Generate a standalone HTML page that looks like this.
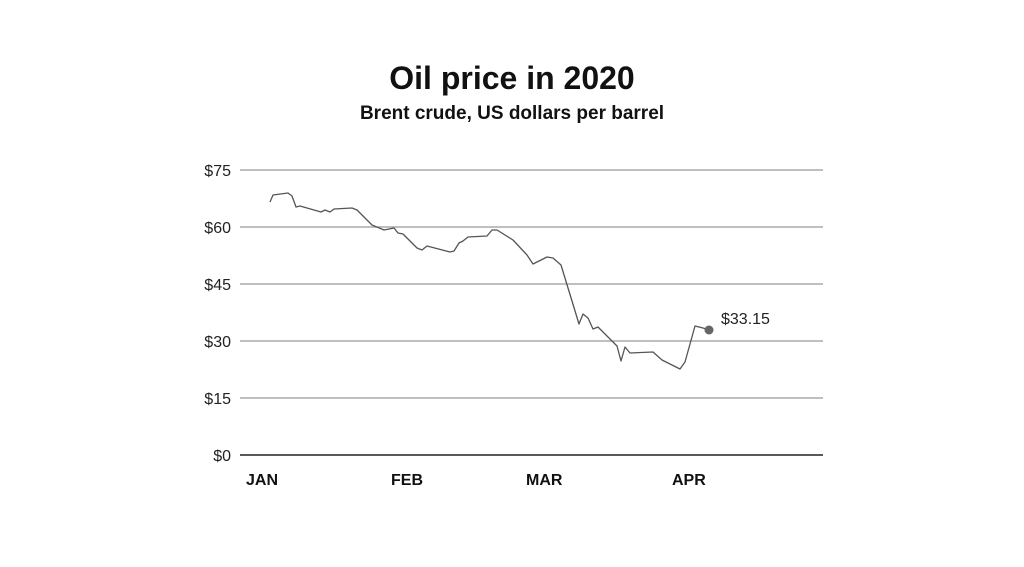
<!DOCTYPE html>
<html><head><style>
body{margin:0;background:#fff;}
svg{display:block;}
</style></head><body>
<svg width="1024" height="567" xmlns="http://www.w3.org/2000/svg" font-family="Liberation Sans, sans-serif">
<rect width="1024" height="567" fill="#fff"/>
<text x="512" y="89" text-anchor="middle" font-size="32" font-weight="bold" fill="#111">Oil price in 2020</text>
<text x="512" y="119" text-anchor="middle" font-size="19" font-weight="bold" fill="#111">Brent crude, US dollars per barrel</text>
<g stroke="#999" stroke-width="1.2">
<line x1="240" y1="170" x2="823" y2="170"/>
<line x1="240" y1="227" x2="823" y2="227"/>
<line x1="240" y1="284" x2="823" y2="284"/>
<line x1="240" y1="341" x2="823" y2="341"/>
<line x1="240" y1="398" x2="823" y2="398"/>
</g>
<line x1="240" y1="455" x2="823" y2="455" stroke="#222" stroke-width="1.5"/>
<g font-size="16" fill="#222" text-anchor="end">
<text x="231" y="176">$75</text>
<text x="231" y="233">$60</text>
<text x="231" y="290">$45</text>
<text x="231" y="347">$30</text>
<text x="231" y="404">$15</text>
<text x="231" y="461">$0</text>
</g>
<g font-size="16" font-weight="bold" fill="#111">
<text x="246" y="485">JAN</text>
<text x="391" y="485">FEB</text>
<text x="526" y="485">MAR</text>
<text x="672" y="485">APR</text>
</g>
<polyline fill="none" stroke="#555" stroke-width="1.3" stroke-linejoin="round" points="270,202 273,195 288,193 292,196 296,207 300,206 321,212 325,210 330,212 334,209 352,208 357,210 372,225 384,230 394,228 398,233 403,234 417,248 422,250 427,246 450,252 454,251 459,243 463,241 468,237 487,236 492,230 497,230 513,240 527,255 533,264 547,257 553,258 561,265 579,324 583,314 588,318 593,329 598,327 617,346 621,361 625,347 630,353 653,352 662,360 680,369 685,362 695,326 703,328 709,330"/>
<circle cx="709" cy="330" r="4.5" fill="#666"/>
<text x="721" y="324" font-size="16" fill="#222">$33.15</text>
</svg>
</body></html>
